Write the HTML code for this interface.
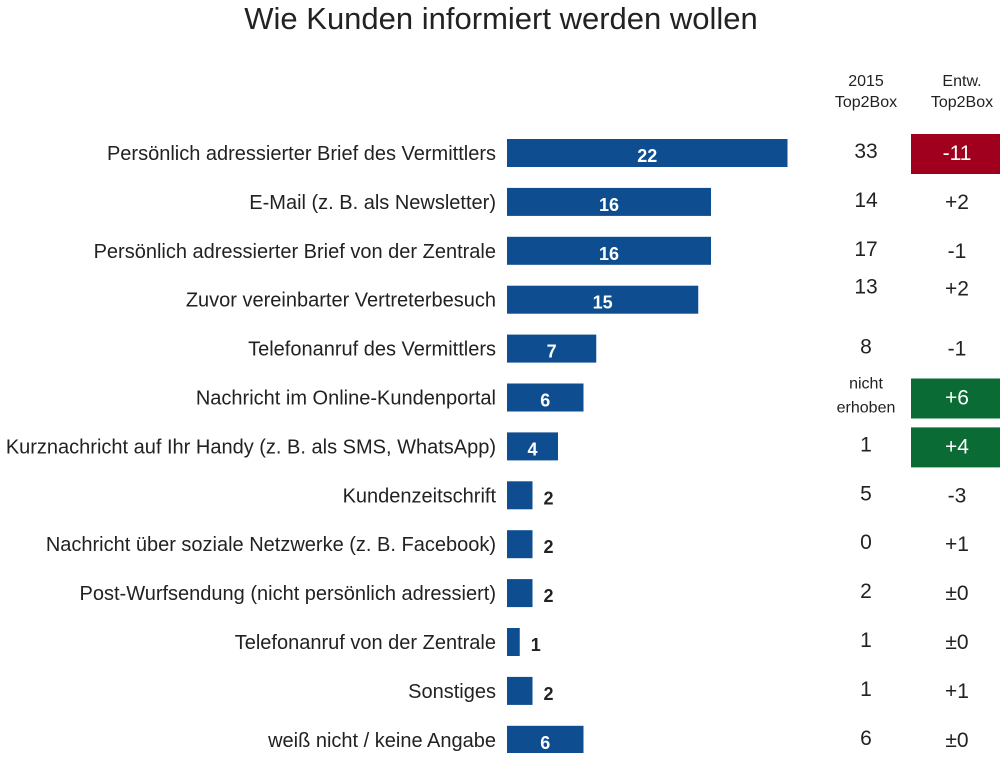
<!DOCTYPE html>
<html><head><meta charset="utf-8"><style>
body{margin:0;background:#fff;font-family:"Liberation Sans",sans-serif;}
svg text{font-family:"Liberation Sans",sans-serif;}
</style></head><body>
<svg id="c" width="1003" height="753">
<text x="501" y="29" text-anchor="middle" font-size="31" fill="#222">Wie Kunden informiert werden wollen</text>
<text x="866" y="86" text-anchor="middle" font-size="16" fill="#222">2015</text>
<text x="866" y="107" text-anchor="middle" font-size="16" fill="#222">Top2Box</text>
<text x="962" y="86" text-anchor="middle" font-size="16" fill="#222">Entw.</text>
<text x="962" y="107" text-anchor="middle" font-size="16" fill="#222">Top2Box</text>
<g id="rows"></g>
</svg>
<script>
const categories=["Persönlich adressierter Brief des Vermittlers","E-Mail (z. B. als Newsletter)","Persönlich adressierter Brief von der Zentrale","Zuvor vereinbarter Vertreterbesuch","Telefonanruf des Vermittlers","Nachricht im Online-Kundenportal","Kurznachricht auf Ihr Handy (z. B. als SMS, WhatsApp)","Kundenzeitschrift","Nachricht über soziale Netzwerke (z. B. Facebook)","Post-Wurfsendung (nicht persönlich adressiert)","Telefonanruf von der Zentrale","Sonstiges","weiß nicht / keine Angabe"];
const values=[22,16,16,15,7,6,4,2,2,2,1,2,6];
const top2015=["33","14","17","13","8","nicht erhoben","1","5","0","2","1","1","6"];
const entw=["-11","+2","-1","+2","-1","+6","+4","-3","+1","±0","±0","+1","±0"];
const x0=507,scale=12.75,y0=153,step=48.9,bh=28;
const xs=v=>x0+v*scale, ys=i=>y0+i*step;
const g=document.getElementById('rows');
const NS="http://www.w3.org/2000/svg";
function mk(t,a,txt){const e=document.createElementNS(NS,t);for(const k in a)e.setAttribute(k,a[k]);if(txt!==undefined)e.textContent=txt;g.appendChild(e);return e;}
categories.forEach((c,i)=>{
 const y=ys(i);
 const l=mk('text',{x:496,y:y+7,'text-anchor':'end','font-size':20,fill:'#222'},c);
 
 
 const w=xs(values[i])-x0;
 const b=mk('rect',{x:x0,y:y-bh/2,width:w,height:bh,fill:'#0d4d90'});
 
 
 const inside=values[i]>=4;
 const vt=mk('text',{x:inside?x0+w/2:x0+w+11,y:y+9,'text-anchor':inside?'middle':'start','font-size':18,'font-weight':'bold',fill:inside?'#fff':'#222'},values[i]);
 
 
 const adj=(i===3)?-11:0;
 if(top2015[i]==="nicht erhoben"){
  const a=mk('text',{x:866,y:y-9,'text-anchor':'middle','font-size':16,fill:'#222'},'nicht');
  
  
  const b2=mk('text',{x:866,y:y+15,'text-anchor':'middle','font-size':16,fill:'#222'},'erhoben');
  
  
 } else {
  const t=mk('text',{x:866,y:y+5+adj,'text-anchor':'middle','font-size':21,fill:'#222'},top2015[i]);
  
  
 }
 const e=entw[i];
 let box=null, col='#222';
 if(e==="-11") box='#a0001e';
 if(e==="+6"||e==="+4") box='#0b6b35';
 if(box){
  const r=mk('rect',{x:911,y:y-19,width:89,height:40,fill:box});
  
  
  col='#fff';
 }
 const et=mk('text',{x:957,y:y+7+adj,'text-anchor':'middle','font-size':21,fill:col},e);
 
 
});
</script>
</body></html>
